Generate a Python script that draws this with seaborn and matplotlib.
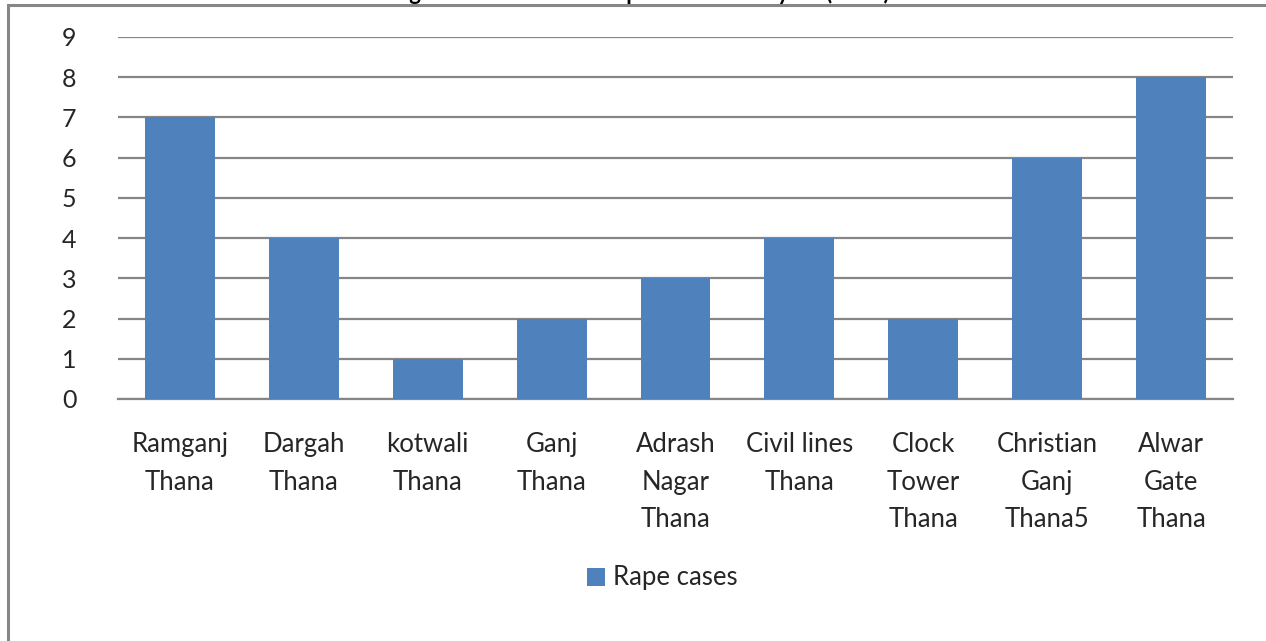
import matplotlib
matplotlib.use("Agg")
import matplotlib.pyplot as plt
import seaborn as sns
import pandas as pd
from matplotlib.patches import Rectangle

categories = ["Ramganj\nThana", "Dargah\nThana", "kotwali\nThana", "Ganj\nThana",
              "Adrash\nNagar\nThana", "Civil lines\nThana", "Clock\nTower\nThana",
              "Christian\nGanj\nThana5", "Alwar\nGate\nThana"]
rape_cases = [7, 4, 1, 2, 3, 4, 2, 6, 8]
series_name = "Rape cases"
yticks = list(range(0, 10))
title = "Figure 3: Thana wise Rape cases in the year (2014)"

df = pd.DataFrame({"Thana": categories, "Cases": rape_cases, "Series": series_name})

sns.set_theme(style="white")
plt.rcParams['font.family'] = ['Lato', 'DejaVu Sans']

fig = plt.figure(figsize=(12.66, 6.41), dpi=100)
ax = fig.add_axes([118/1266, 1-399/641, (1233-118)/1266, (399-37)/641])

bar_color = "#4F81BD"
sns.barplot(data=df, x="Thana", y="Cases", hue="Series", palette=[bar_color],
            width=0.565, ax=ax, saturation=1, legend=False, zorder=3,
            linewidth=0, edgecolor="none")

ax.set_xlim(-0.5, len(categories) - 0.5)
ax.set_ylim(0, 9)
ax.set_yticks(yticks)
ax.set_yticklabels([str(t) for t in yticks], fontsize=18)
ax.set_xticks(range(len(categories)))
ax.set_xticklabels(categories, fontsize=18.5, linespacing=1.62, va="top")
ax.tick_params(axis="x", length=0, pad=24)
ax.tick_params(axis="y", length=0, pad=30)
ax.set_xlabel("")
ax.set_ylabel("")
ax.yaxis.grid(True, color="#868686", linewidth=1.6, zorder=0)
ax.set_axisbelow(True)
for s in ["top", "right", "left"]:
    ax.spines[s].set_visible(False)
ax.spines["bottom"].set_color("#868686")
ax.spines["bottom"].set_linewidth(1.6)

# legend
handle = Rectangle((0, 0), 1, 1, facecolor=bar_color, edgecolor="none")
fig.legend([handle], [series_name], loc="center", bbox_to_anchor=(662/1266, 1-578/641),
           frameon=False, fontsize=18.5, handlelength=0.7, handleheight=0.7,
           handletextpad=0.3)

# outer chart border (cropped)
border = Rectangle((8/1266, -0.1), 1.1, 1 - 5/641 + 0.1, transform=fig.transFigure,
                   fill=False, edgecolor="#878787", linewidth=2.2, clip_on=False)
fig.patches.append(border)

# title (mostly cut off at the top, as in the reference)
fig.text(640/1266, 1.0, title, ha="center", va="baseline",
         fontsize=16, fontweight="bold", color="black")

fig.savefig("out.png", dpi=100)
